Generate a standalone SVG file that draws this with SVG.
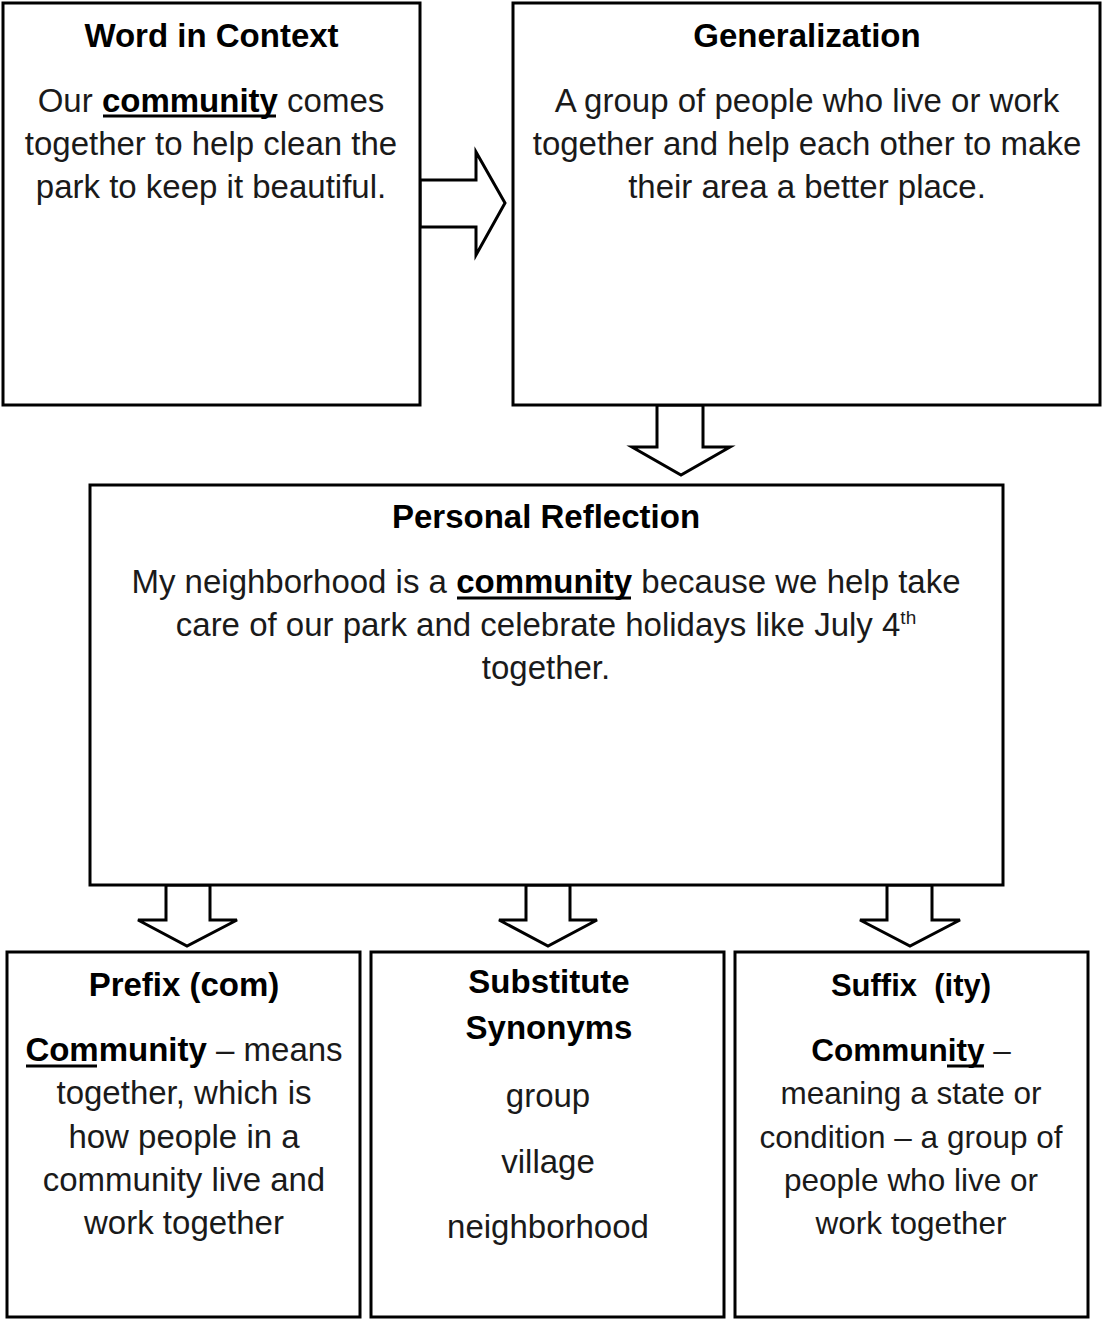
<svg xmlns="http://www.w3.org/2000/svg" width="1102" height="1320" viewBox="0 0 1102 1320">
<style>
.box{fill:#fff;stroke:#000;stroke-width:3}
.arr{fill:#fff;stroke:#000;stroke-width:3;stroke-linejoin:miter}
text{font-family:"Liberation Sans",Arial,sans-serif;font-size:33px;fill:#1a1a1a;text-anchor:middle}
.t{font-weight:bold;fill:#000}
.b{font-weight:bold;fill:#000}
.ul{stroke:#000;stroke-width:3}
.sup{font-size:19px}
.sm{font-size:31.5px}
</style>
<rect width="1102" height="1320" fill="#fff"/>
<g id="connectors">
<polygon class="arr" points="420,180 476,180 476,152 505,203 476,255 476,227 420,227"/>
<polygon class="arr" points="657,405 657,447 632,447 681,475 730,447 703,447 703,405"/>
<polygon class="arr" points="166,885 166,920 138,920 187,946 237,920 210,920 210,885"/>
<polygon class="arr" points="526,885 526,920 499,920 548,946 597,920 570,920 570,885"/>
<polygon class="arr" points="887,885 887,920 860,920 910,946 960,920 932,920 932,885"/>
</g>
<g id="word-in-context">
<rect class="box" x="3" y="3" width="417" height="402"/>
<text class="t" x="211.5" y="47">Word in Context</text>
<text x="211" y="112">Our <tspan class="b">community</tspan> comes</text>
<text x="211" y="155">together to help clean the</text>
<text x="211" y="198">park to keep it beautiful.</text>
<line class="ul" x1="103" y1="116" x2="276" y2="116"/>
</g>
<g id="generalization">
<rect class="box" x="513" y="3" width="587" height="402"/>
<text class="t" x="807" y="47">Generalization</text>
<text x="807" y="112">A group of people who live or work</text>
<text x="807" y="155">together and help each other to make</text>
<text x="807" y="198">their area a better place.</text>
</g>
<g id="personal-reflection">
<rect class="box" x="90" y="485" width="913" height="400"/>
<text class="t" x="546" y="528">Personal Reflection</text>
<text x="546" y="593">My neighborhood is a <tspan class="b">community</tspan> because we help take</text>
<text x="546" y="636">care of our park and celebrate holidays like July 4<tspan class="sup" dy="-12">th</tspan></text>
<text x="546" y="679">together.</text>
<line class="ul" x1="457" y1="598" x2="631" y2="598"/>
</g>
<g id="prefix">
<rect class="box" x="7" y="952" width="353" height="365"/>
<text class="t" x="184" y="996">Prefix (com)</text>
<text x="184" y="1061"><tspan class="b">Community</tspan> – means</text>
<text x="184" y="1104">together, which is</text>
<text x="184" y="1148">how people in a</text>
<text x="184" y="1191">community live and</text>
<text x="184" y="1234">work together</text>
<line class="ul" x1="26" y1="1066" x2="97" y2="1066"/>
</g>
<g id="substitute">
<rect class="box" x="371" y="952" width="353" height="365"/>
<text class="t" x="549" y="993">Substitute</text>
<text class="t" x="549" y="1039">Synonyms</text>
<text x="548" y="1107">group</text>
<text x="548" y="1173">village</text>
<text x="548" y="1238">neighborhood</text>
</g>
<g id="suffix">
<rect class="box" x="735" y="952" width="353" height="365"/>
<text class="t" x="911" y="996" style="white-space:pre;font-size:31px">Suffix  (ity)</text>
<text class="sm" x="911" y="1061"><tspan class="b">Community</tspan> –</text>
<text class="sm" x="911" y="1104">meaning a state or</text>
<text class="sm" x="911" y="1148">condition – a group of</text>
<text class="sm" x="911" y="1191">people who live or</text>
<text class="sm" x="911" y="1234">work together</text>
<line class="ul" x1="947" y1="1066" x2="984" y2="1066"/>
</g>
</svg>
